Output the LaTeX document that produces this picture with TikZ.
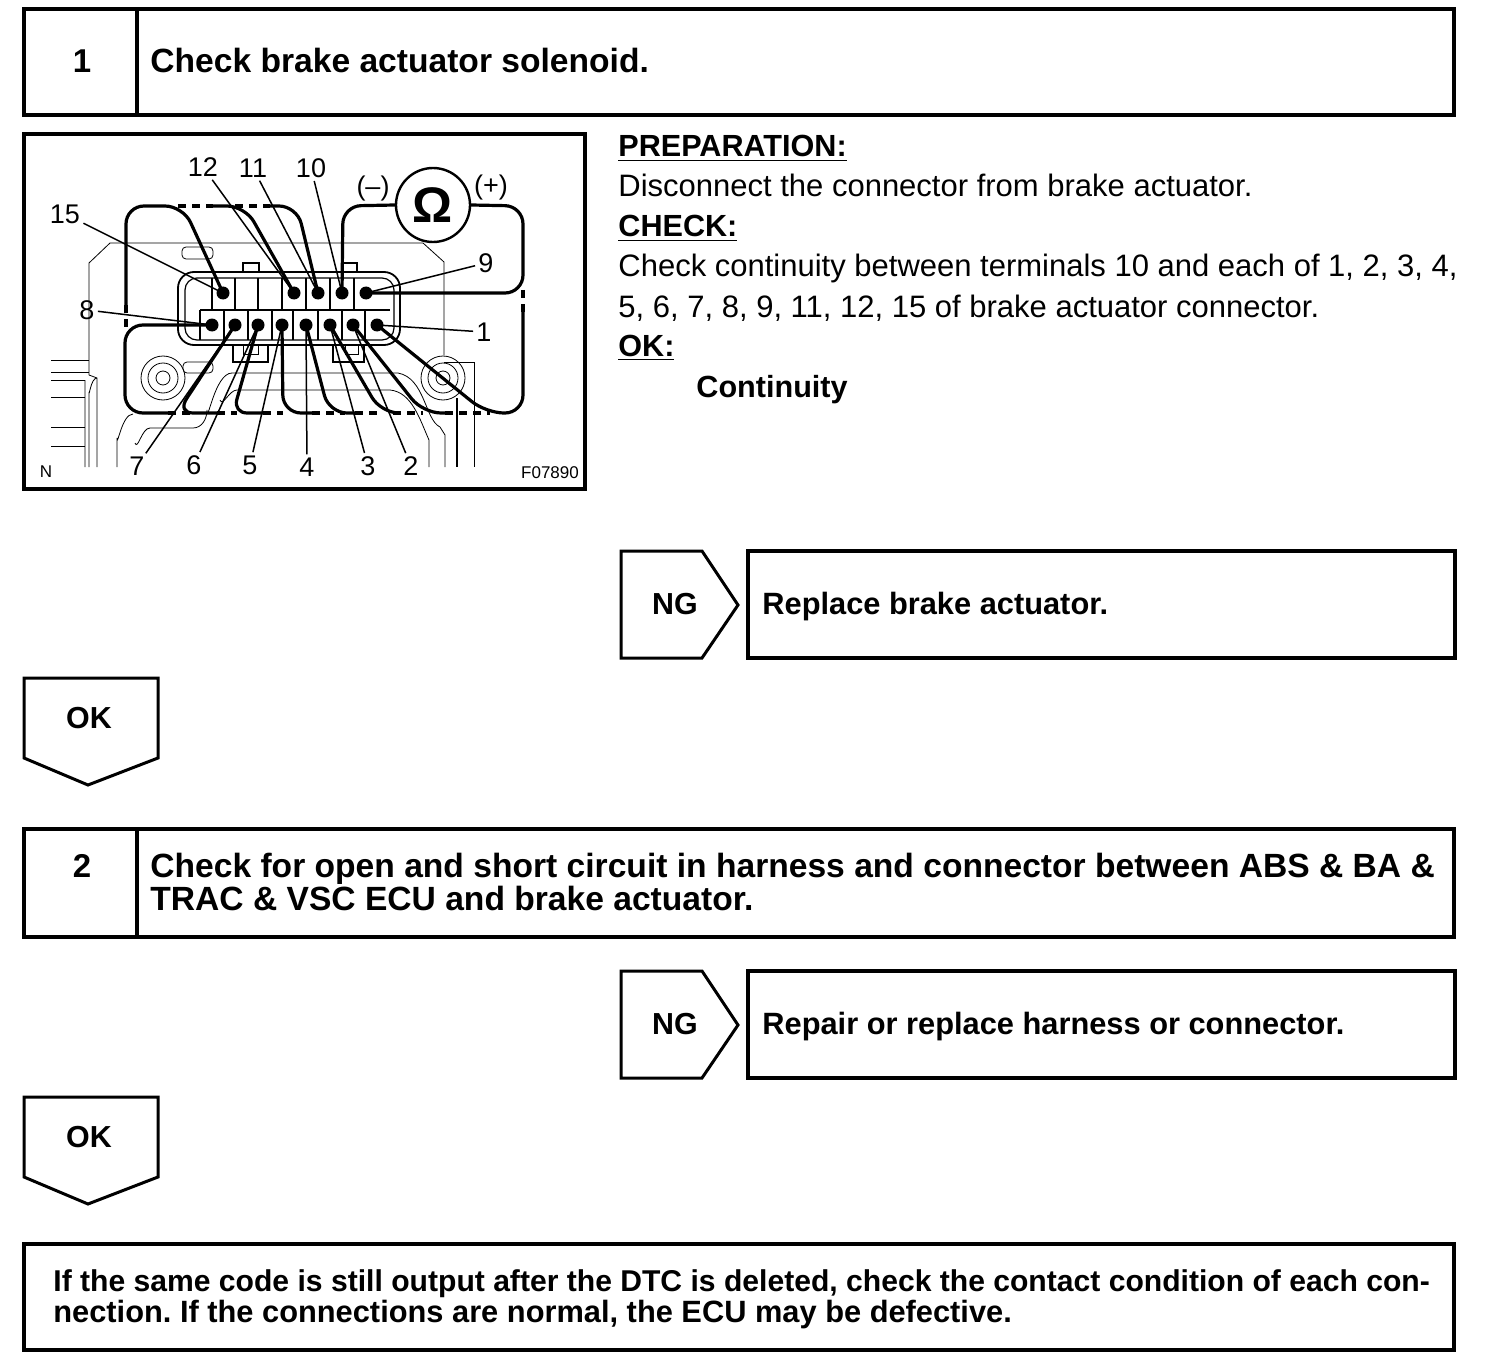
\documentclass[tikz,border=0pt]{standalone}
\usepackage{fontspec}
\setmainfont{Liberation Sans}
\frenchspacing
\usetikzlibrary{calc}
\tikzset{
  box/.style={draw,line width=1.6pt},
  arrowbox/.style={draw,line width=1.5pt},
  heading/.style={anchor=base west,inner sep=0pt,font=\fontsize{16.8}{18}\selectfont\bfseries},
  fixtext/.style={anchor=base west,inner sep=0pt,font=\fontsize{15.4}{18}\selectfont\bfseries},
  body/.style={anchor=base west,inner sep=0pt,font=\fontsize{15.5}{18}\selectfont},
  bodybold/.style={anchor=base west,inner sep=0pt,font=\fontsize{15.3}{18}\selectfont\bfseries},
  mark label/.style={anchor=base,inner sep=0pt,font=\fontsize{15.2}{18}\selectfont\bfseries},
  step label/.style={anchor=base,inner sep=0pt,font=\fontsize{16.5}{18}\selectfont\bfseries},
  pinlabel/.style={inner sep=1.5pt,font=\fontsize{13.5}{14}\selectfont},
  wire/.style={line width=1.6pt,rounded corners=9pt},
  gap/.style={line width=1.6pt,dash pattern=on 4pt off 3pt},
  leader/.style={line width=0.75pt},
  thin line/.style={line width=0.4pt}
}
\begin{document}
\begin{tikzpicture}[x=0.5pt,y=-0.5pt]
\useasboundingbox (0,0) rectangle (1504,1364);

% step boxes
\draw [box] (24,9) rectangle (1454,115);
\draw [box] (137,9) -- (137,115);
\node [step label] (one) at (82,73) {1};
\node [heading] (title1) at (150,73) {Check brake actuator solenoid.};

\draw [box] (24,829) rectangle (1454,937);
\draw [box] (137,829) -- (137,937);
\node [step label] (two) at (82,877) {2};
\node [heading] (title2a) at (150,877) {Check for open and short circuit in harness and connector between ABS \& BA \&};
\node [heading] (title2b) at (150,910) {TRAC \& VSC ECU and brake actuator.};

\draw [box] (24,1244) rectangle (1454,1350);
\node [fixtext,font=\fontsize{15.05}{18}\selectfont\bfseries] (end1) at (53,1291) {If the same code is still output after the DTC is deleted, check the contact condition of each con-};
\node [fixtext] (end2) at (53,1322) {nection. If the connections are normal, the ECU may be defective.};

% NG and OK arrows
\foreach \y/\txt [count=\i] in {551/Replace brake actuator.,971/Repair or replace harness or connector.}
{
\draw [arrowbox] (621,\y) -- (702,\y) -- (738,\y+54) -- (702,\y+107) -- (621,\y+107) -- cycle;
\node [mark label] (ng\i) at (675,\y+63) {NG};
\draw [box] (748,\y) rectangle (1455,\y+107);
\node [fixtext] (fix\i) at (762,\y+63) {\txt};
}
\foreach \y [count=\i] in {678,1097}
{
\draw [arrowbox] (24,\y) -- (158,\y) -- (158,\y+80) -- (88,\y+107) -- (24,\y+80) -- cycle;
\node [mark label] (ok\i) at (89,\y+50) {OK};
}

% text beside the picture
\node [bodybold] (prep) at (618,157) {\underline{PREPARATION:}};
\node [body] (line1) at (618,197) {Disconnect the connector from brake actuator.};
\node [bodybold] (check) at (618,237) {\underline{CHECK:}};
\node [body] (line2) at (618,277) {Check continuity between terminals 10 and each of 1, 2, 3, 4,};
\node [body] (line3) at (618,317) {5, 6, 7, 8, 9, 11, 12, 15 of brake actuator connector.};
\node [bodybold] (okhead) at (618,356) {\underline{OK:}};
\node [bodybold] (cont) at (696,397) {Continuity};

% picture frame
\draw [box] (24,134) rectangle (585,489);

% housing
\draw [thin line] (51,360) -- (89,360) (51,372) -- (89,372) (51,380) -- (85,380);
\draw [thin line] (51,397) -- (85,397) (51,427) -- (85,427) (51,446) -- (85,446);
\draw [thin line] (89,375) -- (89,263) -- (110,243) -- (423,243) -- (444,262) -- (444,355);
\draw [thin line] (89,375) -- (97,378) -- (97,467) (85,380) -- (85,467) (97,378) to [out=180,in=-90] (89,392) -- (89,467);
\draw [thin line,rounded corners=2pt] (182,247) rectangle (213,259);
\draw [thin line,rounded corners=2pt] (183,362) rectangle (213,373);
\foreach \x in {163,443}
{
\draw [thin line] (\x,378) circle [radius=7];
\draw [thin line] (\x,378) circle [radius=15];
\draw [thin line] (\x,378) circle [radius=22];
}
\draw [thin line] (133,414) to [out=180,in=-90] (117,438) -- (117,467);
\draw [thin line] (135,443) to [out=-70,in=180] (150,428) -- (193,428) to [out=0,in=-90] (207,410) to [out=-90,in=180] (232,373) -- (398,373) .. controls (425,378) and (425,420) .. (440,427) -- (445,435) -- (445,467);
\draw [thin line] (220,400) to [out=-70,in=180] (237,390) -- (390,390) .. controls (412,392) and (420,420) .. (429,440) -- (429,467);
\draw [thin line] (444,362) -- (474,362) -- (474,467);
\draw [line width=0.6pt] (457,398) -- (457,467);

% connector
\draw [line width=0.9pt,rounded corners=8pt] (178,345) -- (400,345) -- (400,272) -- (178,272) -- cycle;
\draw [line width=0.6pt,rounded corners=6pt] (185,340) -- (394,340) -- (394,278) -- (185,278) -- cycle;
\draw [line width=0.7pt] (243,272) -- (243,263) -- (259,263) -- (259,272);
\draw [line width=0.7pt] (343,272) -- (343,263) -- (357,263) -- (357,272);
\draw [line width=0.8pt] (233,345) -- (233,362) -- (268,362) -- (268,345);
\draw [line width=0.8pt] (333,345) -- (333,362) -- (364,362) -- (364,345);
\draw [line width=0.5pt] (243,345) -- (243,354) -- (258,354) -- (258,345) (345,345) -- (345,354) -- (358,354) -- (358,345);
\draw [line width=0.8pt] (212,278) -- (212,310) (200,310) -- (390,310) (200,310) -- (200,340);
\foreach \x in {235,258,282,306,330,354}
{
\draw [line width=0.8pt] (\x,278) -- (\x,310);
}
\foreach \x in {224,248,272,293,318,342,365}
{
\draw [line width=0.8pt] (\x,310) -- (\x,340);
}

% terminals
\foreach \n/\x/\y in {15/223/293,12/294/293,11/318/293,10/342/293,9/366/293,
                      8/212/325,7/235/325,6/258/325,5/282/325,4/306/325,3/330/325,2/353/325,1/377/325}
{
\coordinate (p\n) at (\x,\y);
\fill (p\n) circle [radius=6.5];
}

% meter
\node [draw,circle,line width=1.2pt,minimum size=37pt,inner sep=0pt,fill=white,font=\fontsize{25}{26}\selectfont\bfseries] (ohm) at (433,205) {Ω};
\node [pinlabel] (minus) at (373,189) {(–)};
\node [pinlabel] (plus) at (491,188) {(+)};

% wires
\draw [wire] (p15) -- (183,206) -- (126,206) -- (126,305);
\draw [wire] (p12) -- (245,206) -- (213,206);
\draw [wire] (p11) -- (297,206) -- (270,206);
\draw [gap] (178,206) -- (213,206) (235,206) -- (270,206);
\draw [wire] (ohm.west) -- (343,206) -- (p10);
\draw [wire] (p9) -- (523,293) -- (523,206) -- (ohm.east);
\draw [wire] (p8) -- (125,325) -- (125,413) -- (168,413);
\draw [line width=1.6pt] (p7) -- (187,398) .. controls (181,407) and (184,413) .. (193,413) -- (217,413);
\draw [wire,rounded corners=7pt] (p6) -- (233,413) -- (263,413);
\draw [wire] (p5) -- (283,413) -- (312,413);
\draw [wire] (p4) -- (329,413) -- (355,413);
\draw [wire] (p3) -- (381,413) -- (393,413);
\draw [wire] (p2) -- (423,413) -- (445,413);
\draw [wire] (p1) -- (486,413) -- (523,413) -- (523,312);
\draw [gap] (168,413) -- (193,413) (217,413) -- (237,413) (263,413) -- (283,413) (312,413) -- (345,413) (355,413) -- (381,413) (393,413) -- (423,413) (445,413) -- (490,413);
\draw [gap] (126,305) -- (126,328) (523,290) -- (523,312);

% labels and leaders
\foreach \n/\x/\y in {15/65/214,12/203/167,11/253/168,10/311/168,9/486/263,8/87/310,1/484/332,
                      7/137/466,6/194/465,5/250/465,4/307/467,3/368/466,2/411/466}
{
\node [pinlabel] (l\n) at (\x,\y) {\n};
\draw [leader] (l\n) -- (p\n);
}
\node [inner sep=0pt,font=\fontsize{8.5}{9}\selectfont] (north) at (46,472) {N};
\node [inner sep=0pt,font=\fontsize{8.5}{9}\selectfont] (code) at (550,473) {F07890};

\end{tikzpicture}
\end{document}
